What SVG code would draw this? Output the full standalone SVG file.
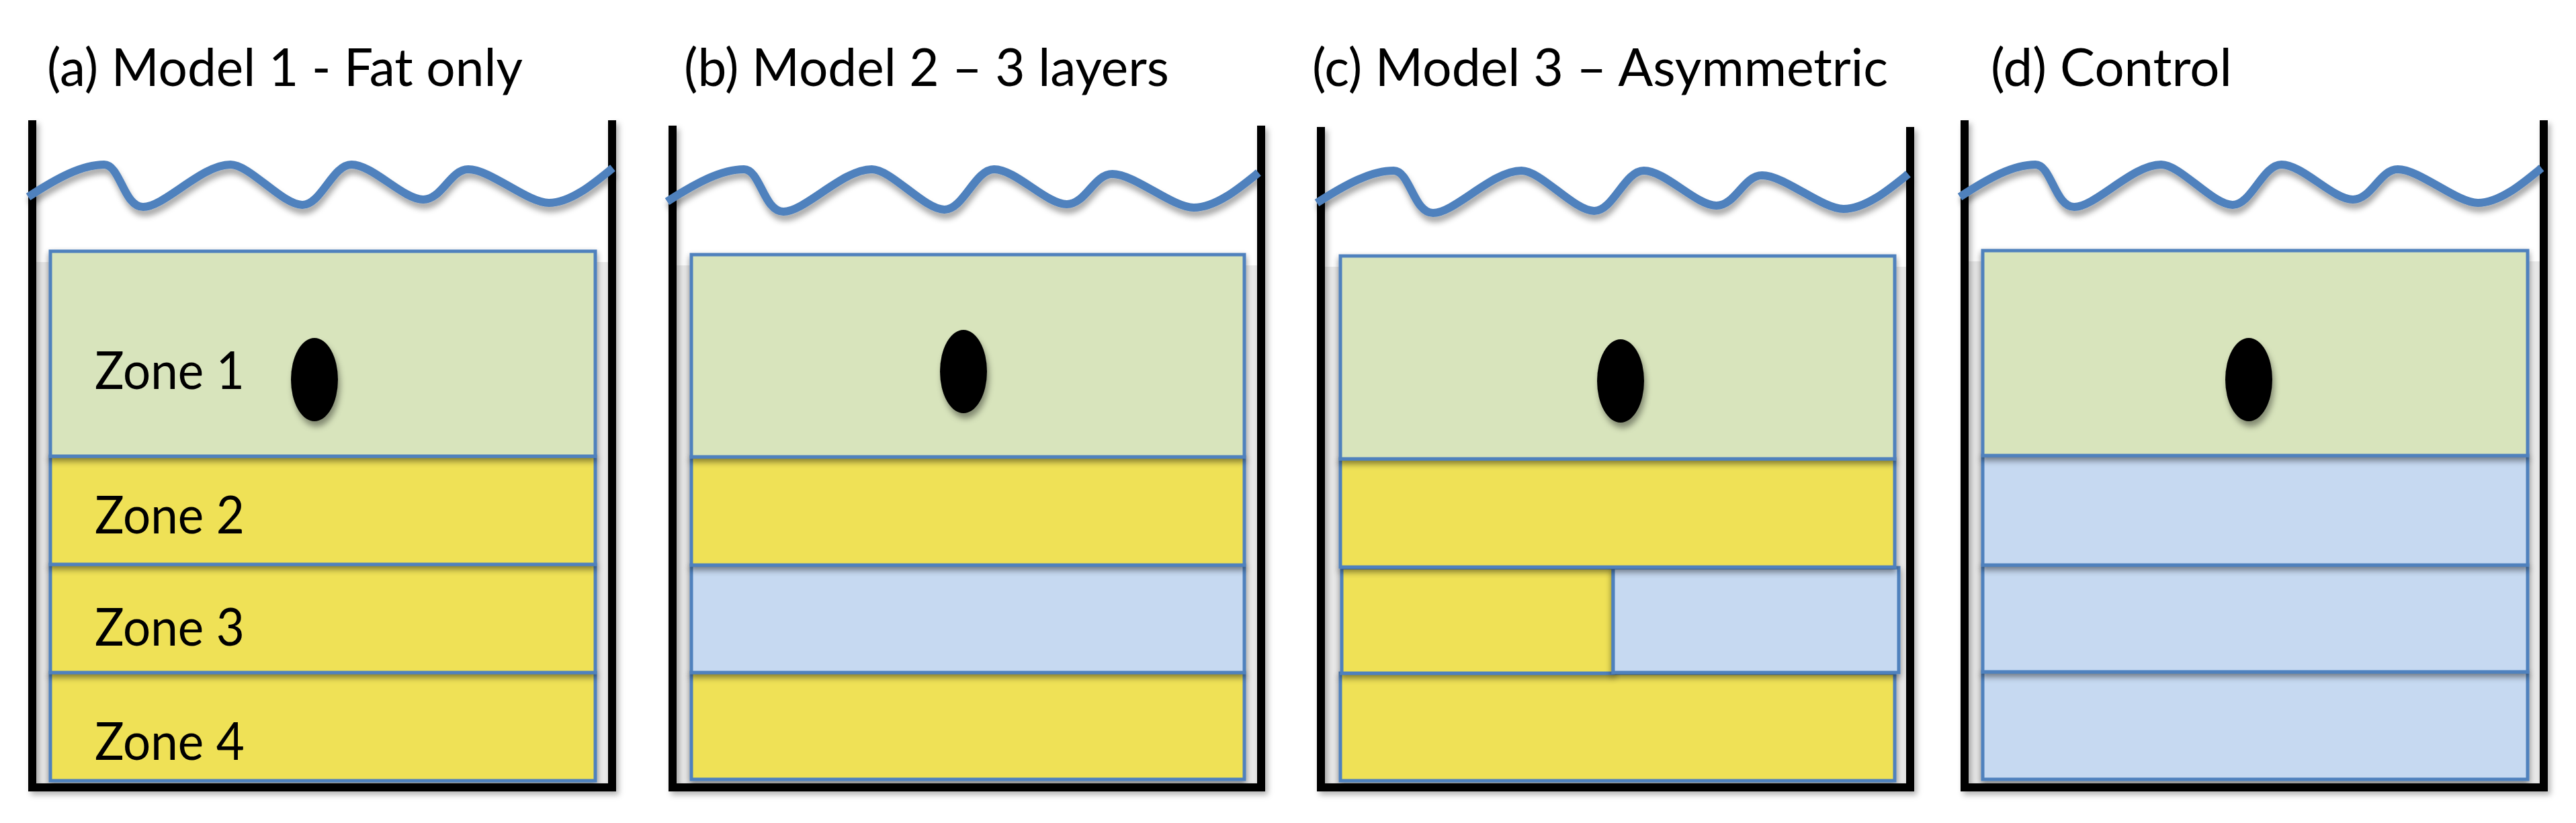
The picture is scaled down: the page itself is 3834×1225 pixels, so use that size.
<svg xmlns="http://www.w3.org/2000/svg" width="3834" height="1225" viewBox="0 0 3834 1225">
<defs>
<style>
.t{font-family:Lato,'Open Sans',sans-serif;font-size:77px;fill:#000}
.wall{fill:none;stroke:#000;stroke-width:12;stroke-linejoin:miter;filter:url(#wallsh)}
.wave{fill:none;stroke:#4f81bd;stroke-width:12;filter:url(#wavesh)}
.g{fill:#d8e4bc;stroke:#4f81bd;stroke-width:5;filter:url(#rsh)}
.y{fill:#efe156;stroke:#4f81bd;stroke-width:5;filter:url(#rsh)}
.b{fill:#c6d9f1;stroke:#4f81bd;stroke-width:5;filter:url(#rsh)}
.bg{fill:#e9e9e9}
.egg{fill:#000;filter:url(#eggsh)}
</style>
<filter id="rsh" x="-5%" y="-20%" width="110%" height="150%"><feDropShadow dx="0" dy="5" stdDeviation="5" flood-color="#000" flood-opacity="0.45"/></filter>
<filter id="wavesh" x="-5%" y="-40%" width="110%" height="200%"><feDropShadow dx="2" dy="8" stdDeviation="4" flood-color="#000" flood-opacity="0.35"/></filter>
<filter id="wallsh" x="-5%" y="-5%" width="110%" height="115%"><feDropShadow dx="4" dy="5" stdDeviation="4" flood-color="#000" flood-opacity="0.3"/></filter>
<filter id="eggsh" x="-50%" y="-30%" width="200%" height="170%"><feDropShadow dx="3" dy="8" stdDeviation="5" flood-color="#000" flood-opacity="0.4"/></filter>
<path id="wv" d="M0,0 C43,-28 80,-48 113,-48 C137,-48 142,15 171,15 C203,15 258,-48 301,-48 C330,-48 378,12 408,12 C436,12 453,-48 481,-48 C513,-48 558,4 588,4 C616,4 628,-41 655,-41 C688,-41 743,9 775,9 C808,9 843,-21 870,-43"/>
</defs>
<rect width="3834" height="1225" fill="#fff"/>

<g id="panel-a">
<text class="t" x="70" y="128" textLength="708" lengthAdjust="spacingAndGlyphs">(a) Model 1 - Fat only</text>
<rect class="bg" x="54" y="390" width="851" height="776"/>
<path class="wall" d="M48,179 V1172 H911 V179"/>
<rect class="y" x="75" y="1001" width="811" height="161"/>
<rect class="y" x="75" y="840" width="811" height="161"/>
<rect class="y" x="75" y="679" width="811" height="161"/>
<rect class="g" x="75" y="374" width="811" height="305"/>
<ellipse class="egg" cx="468" cy="565" rx="35" ry="62"/>
<text class="t" x="141" y="579" textLength="223" lengthAdjust="spacingAndGlyphs">Zone 1</text>
<text class="t" x="141" y="794" textLength="223" lengthAdjust="spacingAndGlyphs">Zone 2</text>
<text class="t" x="141" y="961" textLength="223" lengthAdjust="spacingAndGlyphs">Zone 3</text>
<text class="t" x="141" y="1131" textLength="223" lengthAdjust="spacingAndGlyphs">Zone 4</text>
<use href="#wv" class="wave" transform="translate(42,293)"/>
</g>

<g id="panel-b">
<text class="t" x="1018" y="128" textLength="722" lengthAdjust="spacingAndGlyphs">(b) Model 2 – 3 layers</text>
<rect class="bg" x="1007" y="395" width="864" height="771"/>
<path class="wall" d="M1001,187 V1172 H1877 V187"/>
<rect class="y" x="1029" y="1001" width="823" height="159"/>
<rect class="b" x="1029" y="841" width="823" height="160"/>
<rect class="y" x="1029" y="680" width="823" height="161"/>
<rect class="g" x="1029" y="379" width="823" height="301"/>
<ellipse class="egg" cx="1434" cy="553" rx="35" ry="62"/>
<use href="#wv" class="wave" transform="translate(993,300) scale(1.0115,1)"/>
</g>

<g id="panel-c">
<text class="t" x="1953" y="128" textLength="857" lengthAdjust="spacingAndGlyphs">(c) Model 3 – Asymmetric</text>
<rect class="bg" x="1972" y="397" width="865" height="769"/>
<path class="wall" d="M1966,189 V1172 H2843 V189"/>
<rect class="y" x="1995" y="1002" width="825" height="160"/>
<rect class="y" x="1997" y="845" width="404" height="157"/>
<rect class="b" x="2401" y="845" width="425" height="156"/>
<rect class="y" x="1995" y="683" width="825" height="161"/>
<rect class="g" x="1995" y="381" width="825" height="302"/>
<ellipse class="egg" cx="2412" cy="567" rx="35" ry="62"/>
<use href="#wv" class="wave" transform="translate(1960,302) scale(1.0115,1)"/>
</g>

<g id="panel-d">
<text class="t" x="2963" y="128" textLength="359" lengthAdjust="spacingAndGlyphs">(d) Control</text>
<rect class="bg" x="2930" y="389" width="850" height="777"/>
<path class="wall" d="M2924,179 V1172 H3786 V179"/>
<rect class="b" x="2951" y="1000" width="811" height="160"/>
<rect class="b" x="2951" y="841" width="811" height="159"/>
<rect class="b" x="2951" y="678" width="811" height="163"/>
<rect class="g" x="2951" y="373" width="811" height="305"/>
<ellipse class="egg" cx="3347" cy="565" rx="35" ry="62"/>
<use href="#wv" class="wave" transform="translate(2917,293) scale(0.995,1)"/>
</g>
</svg>
